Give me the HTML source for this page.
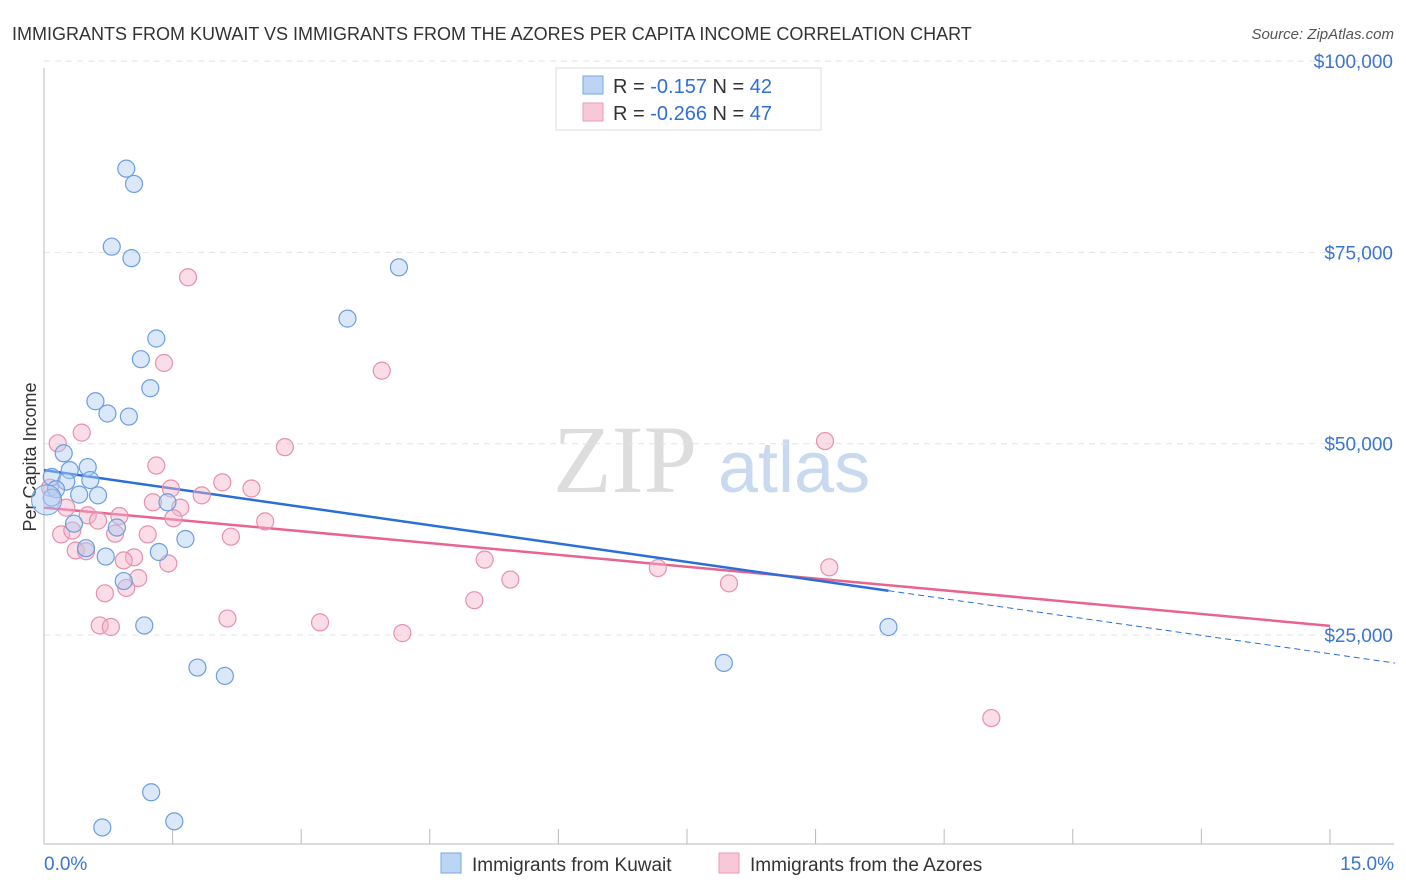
<!DOCTYPE html>
<html><head><meta charset="utf-8"><style>
body{margin:0;background:#fff;font-family:"Liberation Sans",sans-serif;}
svg{display:block}
</style></head><body>
<svg id="c" width="1406" height="892" xmlns="http://www.w3.org/2000/svg">
<text x="12" y="40" font-size="18" fill="#333">IMMIGRANTS FROM KUWAIT VS IMMIGRANTS FROM THE AZORES PER CAPITA INCOME CORRELATION CHART</text>
<text x="1394" y="39" font-size="15" fill="#555" font-style="italic" text-anchor="end">Source: ZipAtlas.com</text>
<text x="36" y="457" font-size="18" fill="#333" text-anchor="middle" transform="rotate(-90 36 457)">Per Capita Income</text>
<g><text x="553" y="492" font-size="96" fill="#ddd" font-family="Liberation Serif,serif">ZIP</text><text x="718" y="492" font-size="72" fill="#c9daf0">atlas</text></g>
<g id="grid"></g><g id="axes"></g><g id="lines"></g><g id="pts"></g>
<g>
<rect x="556" y="68" width="265" height="62" fill="#fff" stroke="#ddd"/>
<rect x="583" y="76" width="20" height="18" fill="#bcd5f5" stroke="#7aa7e0"/>
<text x="613" y="93" font-size="20" fill="#333">R = <tspan fill="#2f6fd6">-0.157</tspan>   N = <tspan fill="#2f6fd6">42</tspan></text>
<rect x="583" y="103" width="20" height="18" fill="#f9c8d8" stroke="#ea9ab5"/>
<text x="613" y="120" font-size="20" fill="#333">R = <tspan fill="#2f6fd6">-0.266</tspan>   N = <tspan fill="#2f6fd6">47</tspan></text>
</g>
<g>
<rect x="441" y="853" width="20" height="20" fill="#bcd5f5" stroke="#7aa7e0"/>
<text x="472" y="871" font-size="19" fill="#333">Immigrants from Kuwait</text>
<rect x="719" y="853" width="20" height="20" fill="#f9c8d8" stroke="#ea9ab5"/>
<text x="750" y="871" font-size="19" fill="#333">Immigrants from the Azores</text>
</g>
</svg>
<script>
const blueX=[0.96,1.05,0.79,1.02,4.14,3.54,1.31,1.13,1.24,0.60,0.74,0.99,0.23,0.51,0.30,0.09,0.26,0.54,0.14,0.41,0.63,0.09,1.44,0.35,0.85,0.49,1.65,0.72,1.34,0.93,1.17,9.85,1.79,2.11,7.93,1.25,0.68,1.52];
const blueY=[88.3,86.3,78.1,76.6,75.4,68.7,66.1,63.4,59.6,57.9,56.3,55.9,51.1,49.3,48.9,48.0,47.4,47.6,46.4,45.7,45.6,45.3,44.7,41.9,41.4,38.7,39.9,37.6,38.2,34.4,28.6,28.4,23.1,22.0,23.7,6.8,2.2,3.0];
const pinkX=[1.68,1.40,3.94,0.16,0.44,9.11,2.81,1.31,2.08,2.42,1.48,1.84,1.27,1.59,0.26,0.51,0.88,0.63,1.51,2.58,0.20,0.33,0.83,1.21,2.18,0.37,0.49,5.14,1.05,0.93,1.45,7.16,9.16,1.10,5.44,7.99,0.96,0.71,5.02,2.14,3.22,0.65,0.78,4.18,11.05,0.07];
const pinkY=[74.1,62.9,61.9,52.4,53.8,52.7,51.9,49.5,47.3,46.5,46.5,45.6,44.7,44.0,44.0,43.0,42.9,42.3,42.6,42.2,40.5,41.0,40.6,40.5,40.2,38.4,38.3,37.2,37.5,37.1,36.7,36.1,36.2,34.8,34.6,34.1,33.5,32.8,31.9,29.5,29.0,28.6,28.4,27.6,16.5,46.6];
const yTicks=[25,50,75,100];
const blueTrend=[48.9,-1.6,9.85,15.76];
const pinkTrend=[44.0,-1.03,15];
const NS="http://www.w3.org/2000/svg";
const X=v=>44+v*85.73, Y=v=>844.3-v*7.652;
function mk(t,a,p){const e=document.createElementNS(NS,t);for(const k in a)e.setAttribute(k,a[k]);document.getElementById(p).appendChild(e);return e;}
yTicks.forEach(t=>{
const g=mk('line',{x1:44,x2:1394,y1:Y(t)-18,y2:Y(t)-18,stroke:'#e4e4e4','stroke-dasharray':'6 5'},'grid');


const l=mk('text',{x:1393,y:Y(t)-11,'font-size':19,fill:'#3a75d4','text-anchor':'end'},'axes');
l.textContent='$'+(t*1000).toLocaleString('en-US');


});
const ax=mk('line',{x1:44,x2:44,y1:68,y2:844,stroke:'#bbb'},'axes');


const bx=mk('line',{x1:44,x2:1394,y1:844,y2:844,stroke:'#bbb'},'axes');


for(let i=0;i<=10;i++){const t=mk('line',{x1:X(i*1.5),x2:X(i*1.5),y1:829,y2:844,stroke:'#bbb'},'axes');

}
const x0=mk('text',{x:44,y:870,'font-size':19,fill:'#3a75d4'},'axes');x0.textContent='0.0%';


const x1=mk('text',{x:1394,y:870,'font-size':19,fill:'#3a75d4','text-anchor':'end'},'axes');x1.textContent='15.0%';


function pts(xs,ys,f,s,n){xs.forEach((x,i)=>{const c=mk('circle',{cx:X(x),cy:Y(ys[i]),r:8.5,fill:f,'fill-opacity':0.45,stroke:s,'stroke-width':1.2},'pts');

});}
pts(pinkX,pinkY,'#f5b3c8','#e890ac','azores-point');
pts(blueX,blueY,'#b0cdf2','#6c9ee0','kuwait-point');
const big=mk('circle',{cx:X(0.03),cy:Y(45.0),r:15,fill:'#b0cdf2','fill-opacity':0.45,stroke:'#6c9ee0'},'pts');


const bf=x=>blueTrend[0]+blueTrend[1]*x, pf=x=>pinkTrend[0]+pinkTrend[1]*x;
const pl=mk('line',{x1:X(0),y1:Y(pf(0)),x2:X(pinkTrend[2]),y2:Y(pf(pinkTrend[2])),stroke:'#e8648f','stroke-width':2.5},'lines');


const bl=mk('line',{x1:X(0),y1:Y(bf(0)),x2:X(blueTrend[2]),y2:Y(bf(blueTrend[2])),stroke:'#2a6fd8','stroke-width':2.5},'lines');


const bd=mk('line',{x1:X(blueTrend[2]),y1:Y(bf(blueTrend[2])),x2:X(blueTrend[3]),y2:Y(bf(blueTrend[3])),stroke:'#2a6fd8','stroke-width':1,'stroke-dasharray':'6 4'},'lines');


</script>
</body></html>
